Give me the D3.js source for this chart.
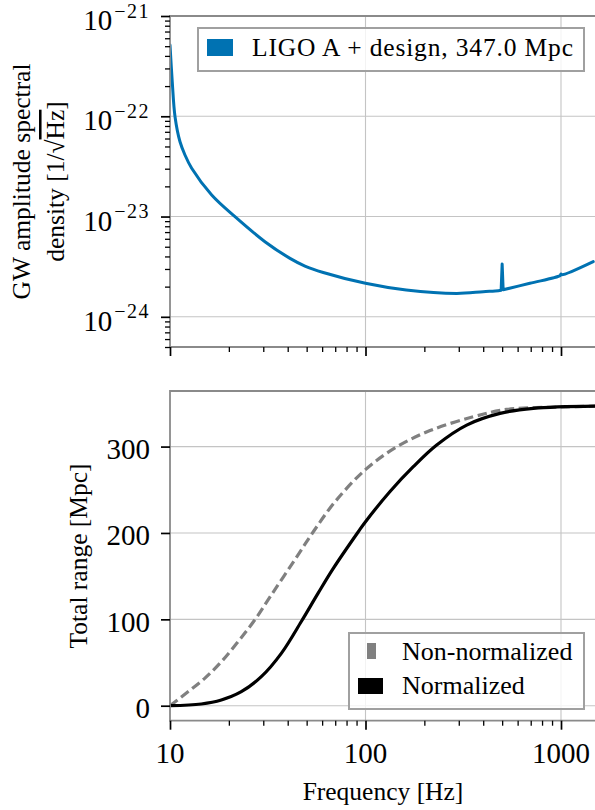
<!DOCTYPE html>
<html><head><meta charset="utf-8">
<script src="https://cdn.jsdelivr.net/npm/d3@7"></script>
<style>
body{margin:0;background:#fff}
svg{display:block}
</style>
</head><body>
<svg id="c" width="595" height="810" font-family="'Liberation Serif','DejaVu Serif',serif"></svg>
<script>
// ---------------- data ----------------
const freqASD = [10, 10.27, 10.61, 11.25, 11.93, 12.91, 16.34, 21.5, 30.6, 41.1, 49, 60.8, 100, 161.6, 293, 400, 478, 494, 500, 506, 693, 990, 1000, 1010, 1462];
const asdValues = [5.14e-22, 2.21e-22, 9.9e-23, 5.57e-23, 4.11e-23, 3.03e-23, 1.64e-23, 9.96e-24, 5.61e-24, 3.83e-24, 3.21e-24, 2.77e-24, 2.16e-24, 1.85e-24, 1.71e-24, 1.78e-24, 1.82e-24, 1.84e-24, 3.36e-24, 1.86e-24, 2.16e-24, 2.58e-24, 2.68e-24, 2.63e-24, 3.55e-24];

const freqNorm = [10, 14.46, 18.3, 23.16, 29.31, 37.1, 46.95, 57.15, 68.44, 91.88, 100, 133.5, 175.6, 231.3, 329.3, 487.5, 721.7, 1500];
const rangeNorm = [0, 2.0, 6.6, 16.2, 33.6, 60.6, 97.5, 130.1, 159, 201.4, 213, 248, 276.7, 301.8, 324.9, 338.4, 344.2, 346.8];

const freqNonNorm = [10, 12.36, 15.05, 18.3, 22.27, 27.12, 32.98, 43.43, 54.08, 69.8, 99.4, 141.5, 213.8, 356, 527, 1070, 1500];
const rangeNonNorm = [0, 16.2, 31.7, 50.9, 74.1, 99.2, 128.2, 168.7, 201.4, 236, 272.9, 298.5, 318.5, 334.5, 343, 346, 346.8];

const xMajorTicks = [10, 100, 1000];
const xTickLabels = ["10", "100", "1000"];
const xMinorTicks = [20,30,40,50,60,70,80,90,200,300,400,500,600,700,800,900];
const topYExps = [-21, -22, -23, -24];
const bottomYTicks = [0, 100, 200, 300];
const legendTopLabel = "LIGO A + design, 347.0 Mpc";
const legendBottomLabels = ["Non-normalized", "Normalized"];

// ---------------- layout ----------------
const svg = d3.select("#c");
const L = 170, Rx = 600;
const top1 = 16, bot1 = 347, top2 = 391, bot2 = 720.7;
const blue = "#0072b2", grey = "#808080";

const x = d3.scaleLog().domain([10, 1000]).range([170, 561]);
const yT = d3.scaleLog().domain([5e-25, 1e-21]).range([bot1, top1]);
const yB = d3.scaleLinear().domain([-17.35, 364.35]).range([bot2, top2]);

const defs = svg.append("defs");
defs.append("clipPath").attr("id","clipT").append("rect").attr("x",L).attr("y",top1).attr("width",Rx-L).attr("height",bot1-top1);
defs.append("clipPath").attr("id","clipB").append("rect").attr("x",L).attr("y",top2).attr("width",Rx-L).attr("height",bot2-top2);

// grids
const gridC = "#c4c4c4";
function vgrid(y0,y1){
  svg.append("g").selectAll("line").data(xMajorTicks.filter(d=>d>10)).join("line")
    .attr("x1",d=>x(d)).attr("x2",d=>x(d)).attr("y1",y0).attr("y2",y1)
    .attr("stroke",gridC).attr("stroke-width",1.1);
}
vgrid(top1,bot1); vgrid(top2,bot2);
svg.append("g").selectAll("line").data(topYExps).join("line")
  .attr("x1",L).attr("x2",Rx).attr("y1",d=>yT(Math.pow(10,d))).attr("y2",d=>yT(Math.pow(10,d)))
  .attr("stroke",gridC).attr("stroke-width",1.1);
svg.append("g").selectAll("line").data(bottomYTicks).join("line")
  .attr("x1",L).attr("x2",Rx).attr("y1",d=>yB(d)).attr("y2",d=>yB(d))
  .attr("stroke",gridC).attr("stroke-width",1.1);

// curves
const asdData = freqASD.map((f,i)=>[f,asdValues[i]]);
const iSpike = freqASD.indexOf(500);
const asdSmooth = d3.line().x(d=>x(d[0])).y(d=>yT(d[1])).curve(d3.curveCatmullRom.alpha(0.5));
const asdLinear = d3.line().x(d=>x(d[0])).y(d=>yT(d[1]));
const asdPath = asdSmooth(asdData.slice(0, iSpike)) + asdLinear(asdData.slice(iSpike-1, iSpike+2)).replace(/^M/,"L") +
                asdSmooth(asdData.slice(iSpike+1)).replace(/^M/,"L");
svg.append("path").attr("clip-path","url(#clipT)").attr("d", asdPath)
  .attr("fill","none").attr("stroke",blue).attr("stroke-width",3).attr("stroke-linejoin","round").attr("stroke-linecap","round");

const nnData = freqNonNorm.map((f,i)=>[f,rangeNonNorm[i]]);
const nData = freqNorm.map((f,i)=>[f,rangeNorm[i]]);
const lineB = d3.line().x(d=>x(d[0])).y(d=>yB(d[1])).curve(d3.curveCatmullRom.alpha(0.5));
svg.append("path").attr("clip-path","url(#clipB)").attr("d",lineB(nnData))
  .attr("fill","none").attr("stroke",grey).attr("stroke-width",3.2).attr("stroke-dasharray","9.5,4.5");
svg.append("path").attr("clip-path","url(#clipB)").attr("d",lineB(nData))
  .attr("fill","none").attr("stroke","#000").attr("stroke-width",3.2);

// spines
const spC = "#8a8a8a";
function frame(t,b){
  svg.append("path").attr("d",`M${Rx+5},${t}H${L}V${b}H${Rx+5}`)
    .attr("fill","none").attr("stroke",spC).attr("stroke-width",1.8);
}
frame(top1,bot1); frame(top2,bot2);

// axes (ticks)
function styleAxis(g,w){
  g.select(".domain").remove();
  g.selectAll(".tick line").attr("stroke","#000").attr("stroke-width",w);
}
function xAxes(yPos, labels){
  svg.append("g").attr("transform",`translate(0,${yPos})`)
    .call(d3.axisBottom(x).tickValues(xMajorTicks).tickSize(9).tickFormat(""))
    .call(g=>styleAxis(g,1.7));
  svg.append("g").attr("transform",`translate(0,${yPos})`)
    .call(d3.axisBottom(x).tickValues(xMinorTicks).tickSize(5).tickFormat(""))
    .call(g=>styleAxis(g,1.3));
  if(labels){
    svg.append("g").selectAll("text").data(xMajorTicks).join("text")
      .attr("x",d=>x(d)).attr("y",yPos+42.5).attr("text-anchor","middle")
      .attr("font-size",29).text((d,i)=>xTickLabels[i]);
  }
}
xAxes(bot1,false); xAxes(bot2,true);

// top y axis
const yMinor = [];
topYExps.concat([-25]).forEach(e=>{ for(let m=2;m<=9;m++){ const v=m*Math.pow(10,e); if(v>=5e-25 && v<1e-21) yMinor.push(v);} });
svg.append("g").attr("transform",`translate(${L},0)`)
  .call(d3.axisLeft(yT).tickValues(topYExps.map(e=>Math.pow(10,e))).tickSize(9).tickFormat(""))
  .call(g=>styleAxis(g,1.7));
svg.append("g").attr("transform",`translate(${L},0)`)
  .call(d3.axisLeft(yT).tickValues(yMinor).tickSize(5).tickFormat(""))
  .call(g=>styleAxis(g,1.3));
const tl = svg.append("g").selectAll("text").data(topYExps).join("text")
  .attr("x",150).attr("y",d=>yT(Math.pow(10,d))+14).attr("text-anchor","end");
tl.append("tspan").attr("font-size",29).text("10");
tl.append("tspan").attr("font-size",20).attr("dy",-12.5).attr("dx",2).attr("letter-spacing",1.5).text(d=>"\u2212"+Math.abs(d));

// bottom y axis
svg.append("g").attr("transform",`translate(${L},0)`)
  .call(d3.axisLeft(yB).tickValues(bottomYTicks).tickSize(9).tickFormat(""))
  .call(g=>styleAxis(g,1.7));
svg.append("g").selectAll("text").data(bottomYTicks).join("text")
  .attr("x",150).attr("y",d=>yB(d)+12.5).attr("text-anchor","end").attr("font-size",29).text(d=>d);

// axis labels
svg.append("text").attr("transform","translate(30,181.5) rotate(-90)")
  .attr("text-anchor","middle").attr("font-size",25.5).text("GW amplitude spectral");
const lab2 = svg.append("text").attr("transform","translate(64,181.5) rotate(-90)")
  .attr("text-anchor","middle").attr("font-size",25.5);
lab2.append("tspan").text("density [1/\u221A");
lab2.append("tspan").attr("style","text-decoration:overline").text("Hz");
lab2.append("tspan").text("]");
svg.append("text").attr("transform","translate(87,556) rotate(-90)")
  .attr("text-anchor","middle").attr("font-size",25.5).text("Total range [Mpc]");
svg.append("text").attr("x",383).attr("y",800).attr("text-anchor","middle")
  .attr("font-size",25.5).text("Frequency [Hz]");

// legends
const lgC = "#a0a0a0";
svg.append("rect").attr("x",198).attr("y",28).attr("width",386).attr("height",43)
  .attr("fill","#fff").attr("fill-opacity",0.8).attr("stroke",lgC).attr("stroke-width",2);
svg.append("rect").attr("x",207).attr("y",39).attr("width",26).attr("height",17).attr("fill",blue);
svg.append("text").attr("x",252).attr("y",56).attr("font-size",25.5)
  .attr("textLength",321).attr("lengthAdjust","spacing").text(legendTopLabel);

svg.append("rect").attr("x",349).attr("y",633).attr("width",235).attr("height",76)
  .attr("fill","#fff").attr("fill-opacity",0.8).attr("stroke",lgC).attr("stroke-width",2);
svg.append("rect").attr("x",367).attr("y",643).attr("width",9).attr("height",16).attr("fill",grey);
svg.append("rect").attr("x",358).attr("y",678).attr("width",25).attr("height",16).attr("fill","#000");
svg.append("g").selectAll("text").data(legendBottomLabels).join("text")
  .attr("x",402).attr("y",(d,i)=>660+i*34).attr("font-size",26).text(d=>d);
</script>
</body></html>
